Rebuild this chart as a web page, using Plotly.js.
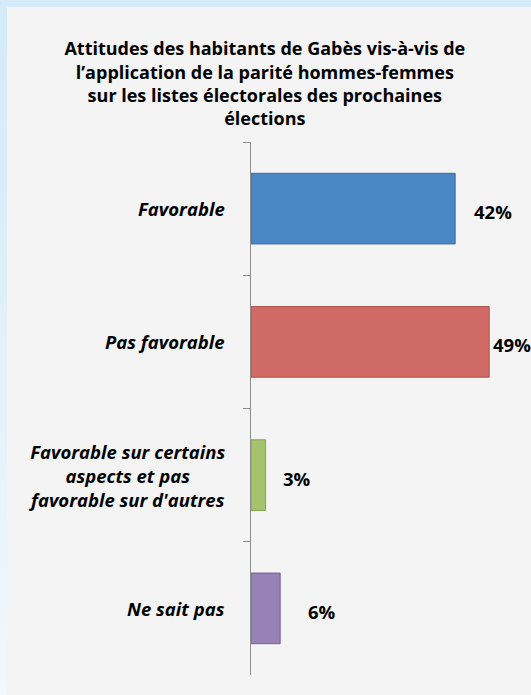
<!DOCTYPE html>
<html>
<head>
<meta charset="utf-8">
<script src="https://cdn.plot.ly/plotly-3.0.1.min.js"></script>
<style>
html,body{margin:0;padding:0;}
body{width:531px;height:695px;overflow:hidden;background:linear-gradient(180deg,#d4eaf8 0%,#e2f0fa 50%,#f2f8fd 100%);position:relative;}
#chart{position:absolute;left:7px;top:7px;width:524px;height:688px;}
</style>
</head>
<body>
<div id="chart"></div>
<script>
const categories = ["Favorable", "Pas favorable", "Favorable sur certains<br>aspects et pas<br>favorable sur d'autres", "Ne sait pas"];
const values = [42, 49, 3, 6];
const valueLabels = ["42%", "49%", "3%", "6%"];
const barColors = ["#4a86c4", "#cf6a65", "#a5c36c", "#9682b4"];
const barLines = ["#3a6fa6", "#ad524d", "#86a352", "#75629a"];
const labelGap = [17, 2, 15, 26];
const titleText = "Attitudes des habitants de Gabès vis-à-vis de<br>l’application de la parité hommes-femmes<br>sur les listes électorales des prochaines<br>élections";

const FONT = "'Open Sans', Lato, sans-serif";

const trace = {
  type: "bar",
  orientation: "h",
  y: categories,
  x: values,
  width: 0.53,
  marker: {color: barColors, line: {color: barLines, width: 1}},
  hoverinfo: "none"
};

const annotations = [];
categories.forEach((c, i) => {
  annotations.push({
    xref: "paper", yref: "y", x: 0, y: c, xanchor: "right", yanchor: "middle",
    xshift: -24, align: "center", showarrow: false,
    text: "<b><i>" + c + "</i></b>",
    font: {family: FONT, size: 18.5, color: "#000"}
  });
  annotations.push({
    xref: "x", yref: "y", x: values[i], y: c, xanchor: "left", yanchor: "middle",
    xshift: labelGap[i], yshift: -3, showarrow: false,
    text: "<b>" + valueLabels[i] + "</b>",
    font: {family: FONT, size: 18.5, color: "#000"}
  });
});

const layout = {
  width: 524, height: 688,
  margin: {l: 244, r: 0, t: 135, b: 20},
  paper_bgcolor: "#f4f4f4",
  plot_bgcolor: "rgba(0,0,0,0)",
  showlegend: false,
  title: {
    text: "<b>" + titleText + "</b>",
    font: {family: FONT, size: 18, color: "#000"},
    x: 0.492, xref: "container", xanchor: "center",
    y: 0.93, yref: "container", yanchor: "top"
  },
  xaxis: {range: [0, 57.6], visible: false, fixedrange: true},
  yaxis: {
    type: "category",
    autorange: "reversed",
    showticklabels: false,
    showline: true, linecolor: "#8c8c8c", linewidth: 1,
    ticks: "outside", ticklen: 7, tickcolor: "#8c8c8c", tickson: "boundaries",
    showgrid: false, zeroline: false, fixedrange: true
  },
  annotations: annotations
};

Plotly.newPlot("chart", [trace], layout, {displayModeBar: false, staticPlot: true});
</script>
</body>
</html>
